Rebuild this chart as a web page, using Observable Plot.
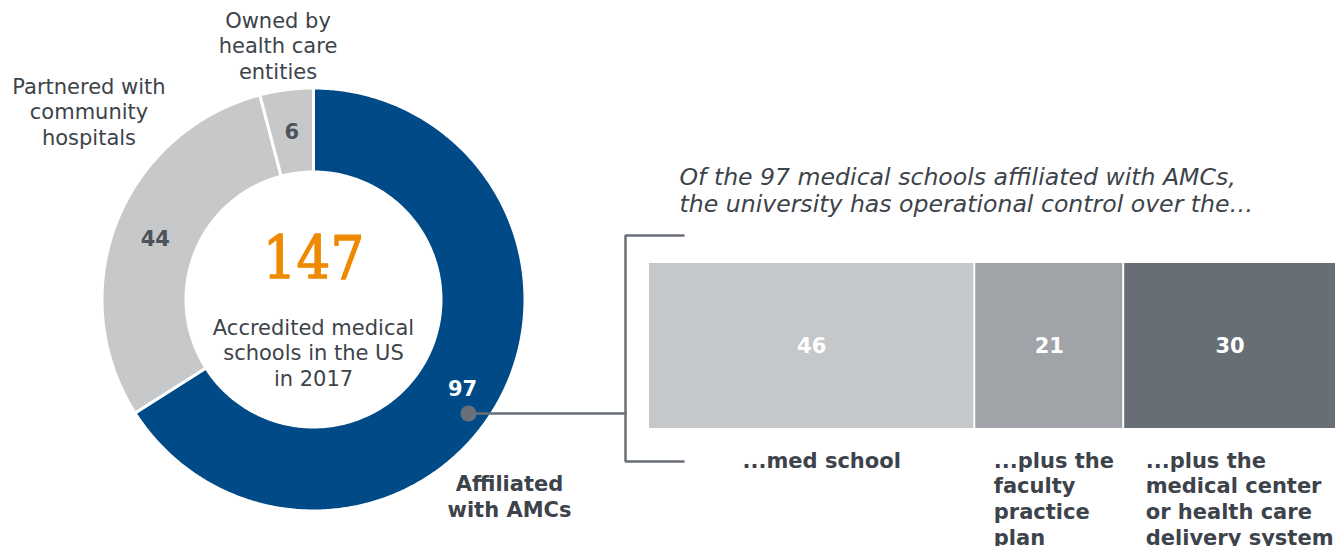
<!DOCTYPE html>
<html><head><meta charset="utf-8">
<script src="https://cdn.jsdelivr.net/npm/d3@7"></script>
<script src="https://cdn.jsdelivr.net/npm/@observablehq/plot@0.6"></script>
<style>
html,body{margin:0;padding:0;background:#fff;overflow:hidden}
#wrap{position:relative;width:1336px;height:546px}
#wrap svg{position:absolute;top:0;overflow:visible;background:transparent}
</style></head><body><div id="wrap"></div>
<script>
// ---- data ----
const donutCategories = ["Affiliated\nwith AMCs", "Partnered with\ncommunity\nhospitals", "Owned by\nhealth care\nentities"];
const donutValues = [97, 44, 6];
const donutColors = ["#004b87", "#c6c8ca", "#c6c8ca"];
const totalSchools = 147;
const centerText = "Accredited medical\nschools in the US\nin 2017";
const subtitleText = "Of the 97 medical schools affiliated with AMCs,\nthe university has operational control over the\u2026";
const barCategories = ["...med school", "...plus the\nfaculty\npractice\nplan", "...plus the\nmedical center\nor health care\ndelivery system"];
const barValues = [46, 21, 30];
const barColors = ["#c5c8cb", "#a0a3a7", "#686e75"];

// ---- layout ----
const W = 1336, H = 546;
const cx = 313, cy = 299, R = 211.5, r0 = 127.5, labelR = 170;
const sliceLabelDy = [8, 2, 1];
const textColor = "#3d434a";
const lineColor = "#6a7078";
const barLeft = 648, barWidth = W - barLeft;
const labelDx = [94, 19, 22];
const sans = "DejaVu Sans, Verdana, sans-serif";

// donut slices as polygons derived from the values
const pie = d3.pie().sort(null).value(d => d)(donutValues);
const slicePts = [];
pie.forEach((p, i) => {
  const n = Math.max(10, Math.ceil((p.endAngle - p.startAngle) / 0.01));
  const pts = [];
  for (let k = 0; k <= n; k++) {
    const a = p.startAngle + (p.endAngle - p.startAngle) * k / n;
    pts.push([cx + R * Math.sin(a), cy - R * Math.cos(a)]);
  }
  for (let k = n; k >= 0; k--) {
    const a = p.startAngle + (p.endAngle - p.startAngle) * k / n;
    pts.push([cx + r0 * Math.sin(a), cy - r0 * Math.cos(a)]);
  }
  pts.push(pts[0]);
  pts.forEach(([x, y]) => slicePts.push({slice: i, color: donutColors[i], x, y}));
});
const sliceLabels = pie.map((p, i) => {
  const a = (p.startAngle + p.endAngle) / 2;
  return {x: cx + labelR * Math.sin(a), y: cy - labelR * Math.cos(a) + sliceLabelDy[i], text: String(donutValues[i]), fill: i === 0 ? "white" : "#4d535a"};
});

// ---- bar plot ----
let start = 0;
const barData = barCategories.map((c, i) => { const d = {cat: c, value: barValues[i], color: barColors[i], start}; start += barValues[i]; return d; });
const barTotal = d3.sum(barValues);

const barPlot = Plot.plot({
  width: barWidth, height: H, margin: 0,
  style: {background: "transparent"},
  x: {domain: [0, barTotal], range: [0, barWidth], axis: null},
  y: {type: "band", domain: ["AMC"], range: [263, 428], padding: 0, axis: null},
  color: {type: "identity"},
  marks: [
    Plot.barX(barData, Plot.stackX({x: "value", y: () => "AMC", fill: "color", insetLeft: 1, insetRight: 1})),
    Plot.text(barData, Plot.stackX({x: "value", y: () => "AMC", text: d => String(d.value), fill: "white", fontWeight: "bold", fontSize: 21, fontFamily: sans})),
    ...barData.map((d, i) => Plot.text([d], {x: "start", y: () => "AMC", text: "cat", textAnchor: "start", lineAnchor: "top", dy: 103.5, dx: labelDx[i], fill: textColor, fontWeight: "bold", fontSize: 21, lineHeight: 1.22, fontFamily: sans}))
  ]
});
barPlot.style.left = barLeft + "px";

// ---- donut + annotations ----
const main = Plot.plot({
  width: W, height: H, margin: 0,
  style: {background: "transparent"},
  x: {domain: [0, W], range: [0, W], axis: null},
  y: {domain: [0, H], range: [0, H], axis: null},
  color: {type: "identity"},
  marks: [
    Plot.line(slicePts, {x: "x", y: "y", z: "slice", fill: "color", stroke: "white", strokeWidth: 3, curve: "linear"}),
    Plot.text(sliceLabels, {x: "x", y: "y", text: "text", fill: "fill", fontWeight: "bold", fontSize: 21, fontFamily: sans}),
    // center
    Plot.text([totalSchools], {x: () => cx, y: () => 278, text: d => String(d), lineAnchor: "bottom", fill: "#ee8a00", stroke: "#ee8a00", strokeWidth: 1.3, fontSize: 59, fontFamily: "DejaVu Serif Condensed, DejaVu Serif, serif"}),
    Plot.text([centerText], {x: () => cx, y: () => 351.5, text: d => d, fill: textColor, fontSize: 21, lineHeight: 1.22, fontFamily: sans}),
    // category labels
    Plot.text([donutCategories[0]], {x: () => 509, y: () => 495.5, text: d => d, fill: textColor, fontWeight: "bold", fontSize: 21, lineHeight: 1.22, fontFamily: sans}),
    Plot.text([donutCategories[1]], {x: () => 88.5, y: () => 110.5, text: d => d, fill: textColor, fontSize: 21, lineHeight: 1.22, fontFamily: sans}),
    Plot.text([donutCategories[2]], {x: () => 277.5, y: () => 44.5, text: d => d, fill: textColor, fontSize: 21, lineHeight: 1.22, fontFamily: sans}),
    // subtitle
    Plot.text([subtitleText], {x: () => 679, y: () => 189, text: d => d, textAnchor: "start", fill: textColor, fontStyle: "italic", fontSize: 23.6, lineHeight: 1.14, fontFamily: sans}),
    // bracket and connector
    Plot.line([[683, 235], [625, 235], [625, 461], [683, 461]], {x: d => d[0], y: d => d[1], stroke: lineColor, strokeWidth: 2.5, strokeLinejoin: "miter"}),
    Plot.line([[468, 413], [625, 413]], {x: d => d[0], y: d => d[1], stroke: lineColor, strokeWidth: 2.5}),
    Plot.dot([[468, 413]], {x: d => d[0], y: d => d[1], r: 8, fill: lineColor, stroke: "none"})
  ]
});

const wrap = document.getElementById("wrap");
wrap.appendChild(barPlot);
wrap.appendChild(main);
main.style.left = "0px";
</script>
</body></html>
